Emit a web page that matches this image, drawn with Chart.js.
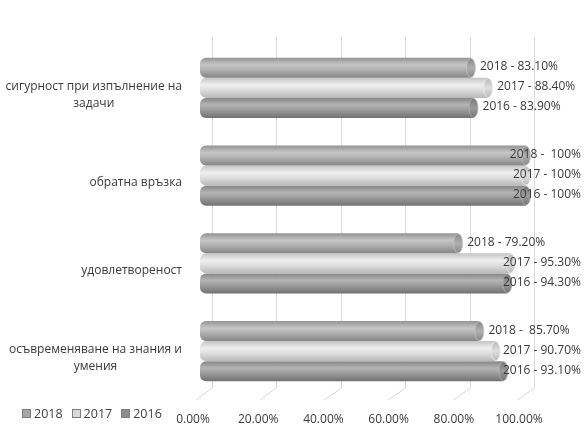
<!DOCTYPE html>
<html>
<head>
<meta charset="utf-8">
<script src="https://cdn.jsdelivr.net/npm/chart.js@4"></script>
<style>
  html, body { margin: 0; padding: 0; background: #fff; }
  #wrap { position: relative; width: 585px; height: 428px; }
  #legend { position: absolute; left: 22px; top: 405px; font: 12.5px "Open Sans", sans-serif; color: #404040; }
  #legend span.item { margin-right: 9px; }
  #legend span.box { display: inline-block; width: 7px; height: 7px; margin-right: 3px; border: 1px solid #7f7f7f; vertical-align: 0px; }
</style>
</head>
<body>
<div id="wrap">
  <canvas id="myChart" width="585" height="428"></canvas>
  <div id="legend"></div>
</div>
<script>
// Категории (отгоре надолу)
var categorias = [
  ['сигурност при изпълнение на', 'задачи'],
  ['обратна връзка'],
  ['удовлетвореност'],
  ['осъвременяване на знания и', 'умения']
];
var anios = ['2018', '2017', '2016'];
var valores2018 = [83.1, 100, 79.2, 85.7];
var valores2017 = [88.4, 100, 95.3, 90.7];
var valores2016 = [83.9, 100, 94.3, 93.1];
var etiquetas2018 = ['2018 - 83.10%', '2018 -  100%', '2018 - 79.20%', '2018 -  85.70%'];
var etiquetas2017 = ['2017 - 88.40%', '2017 - 100%', '2017 - 95.30%', '2017 - 90.70%'];
var etiquetas2016 = ['2016 - 83.90%', '2016 - 100%', '2016 - 94.30%', '2016 - 93.10%'];
var ticksX = [0, 20, 40, 60, 80, 100];

var fuente = '"Open Sans", sans-serif';
var colorTexto = '#3a3a3a';

// colores de cilindro: arriba, brillo, medio, abajo
var tonos = [
  ['#949494', '#c6c6c6', '#b0b0b0', '#858585'],
  ['#c4c4c4', '#efefef', '#dedede', '#b8b8b8'],
  ['#858585', '#b4b4b4', '#9c9c9c', '#727272']
];
var tonosLeyenda = ['#a6a6a6', '#d9d9d9', '#8c8c8c'];

function degradado(ctx, k) {
  var el = ctx.element;
  var t = tonos[k];
  if (!el || el.y === undefined || isNaN(el.y)) return t[2];
  var h = el.height;
  var g = ctx.chart.ctx.createLinearGradient(0, el.y - h / 2, 0, el.y + h / 2);
  g.addColorStop(0, t[0]);
  g.addColorStop(0.35, t[1]);
  g.addColorStop(0.6, t[2]);
  g.addColorStop(1, t[3]);
  return g;
}

// Líneas de la cuadrícula con el "piso" en 3D
var rejilla = {
  id: 'rejilla',
  beforeDatasetsDraw: function(chart) {
    var c = chart.ctx, x = chart.scales.x;
    c.save();
    c.strokeStyle = '#d9d9d9';
    c.lineWidth = 1;
    for (var i = 0; i < ticksX.length; i++) {
      var px = Math.round(x.left + (x.getPixelForValue(ticksX[i]) - x.left) * 0.988 + 12) + 0.5;
      c.beginPath();
      c.moveTo(px, 37);
      c.lineTo(px, 388);
      c.lineTo(px - 17, 400);
      c.stroke();
    }
    c.restore();
  }
};

// Tapa del cilindro, etiquetas de datos y etiquetas de categoría
var extras = {
  id: 'extras',
  afterDatasetsDraw: function(chart) {
    var c = chart.ctx;
    var etiquetas = [etiquetas2018, etiquetas2017, etiquetas2016];
    c.save();
    for (var k = 0; k < chart.data.datasets.length; k++) {
      var meta = chart.getDatasetMeta(k);
      meta.data.forEach(function(el, i) {
        var h = el.height;
        var g = c.createLinearGradient(0, el.y - h / 2, 0, el.y + h / 2);
        g.addColorStop(0, tonos[k][3]);
        g.addColorStop(0.5, tonos[k][2]);
        g.addColorStop(1, tonos[k][3]);
        c.beginPath();
        c.ellipse(el.x, el.y, 4.5, h / 2 - 0.5, 0, 0, Math.PI * 2);
        c.fillStyle = g;
        c.fill();
        c.strokeStyle = tonos[k][1];
        c.lineWidth = 0.7;
        c.stroke();
      });
    }
    c.font = '12px ' + fuente;
    c.fillStyle = colorTexto;
    c.textBaseline = 'middle';
    for (var k = 0; k < chart.data.datasets.length; k++) {
      var meta = chart.getDatasetMeta(k);
      meta.data.forEach(function(el, i) {
        var txt = etiquetas[k][i];
        var w = c.measureText(txt).width;
        var lx = Math.min(el.x + 9, 581 - w);
        c.textAlign = 'left';
        c.fillText(txt, lx, el.y - 1);
      });
    }
    // categorías
    var y = chart.scales.y;
    categorias.forEach(function(lineas, i) {
      var cy = y.getPixelForValue(i);
      var ancho = 0;
      lineas.forEach(function(l) { ancho = Math.max(ancho, c.measureText(l).width); });
      var cx = 182 - ancho / 2;
      c.textAlign = 'center';
      var alto = 17;
      var y0 = cy - (lineas.length - 1) * alto / 2 + 7;
      lineas.forEach(function(l, j) { c.fillText(l, cx, y0 + j * alto); });
    });
    c.restore();
  }
};

var ctx = document.getElementById('myChart').getContext('2d');
var data = {
  labels: categorias.map(function(l) { return l.join(' '); }),
  datasets: [
    { label: anios[0], data: valores2018, backgroundColor: function(c) { return degradado(c, 0); } },
    { label: anios[1], data: valores2017, backgroundColor: function(c) { return degradado(c, 1); } },
    { label: anios[2], data: valores2016, backgroundColor: function(c) { return degradado(c, 2); } }
  ]
};

var options = {
  indexAxis: 'y',
  responsive: false,
  animation: false,
  layout: { padding: { left: 200, right: 59, top: 44, bottom: 0 } },
  datasets: {
    bar: {
      barPercentage: 1,
      categoryPercentage: 0.684,
      borderSkipped: false,
      borderWidth: 0,
      borderRadius: { topLeft: 6, bottomLeft: 6, topRight: 0, bottomRight: 0 }
    }
  },
  plugins: { legend: { display: false }, tooltip: { enabled: false } },
  scales: {
    y: { display: false },
    x: {
      min: 0,
      max: 100,
      afterBuildTicks: function(s) { s.ticks = ticksX.map(function(v) { return { value: v }; }); },
      afterFit: function(s) { s.height = 33; },
      grid: { display: false },
      border: { display: false },
      ticks: {
        padding: 9,
        labelOffset: -7,
        color: colorTexto,
        font: { family: fuente, size: 12 },
        maxRotation: 0,
        callback: function(v) { return v.toFixed(2) + '%'; }
      }
    }
  }
};

var myChart = new Chart(ctx, { type: 'bar', data: data, options: options, plugins: [rejilla, extras] });
myChart.update();

// Leyenda
var leyenda = document.getElementById('legend');
anios.forEach(function(a, i) {
  var s = document.createElement('span');
  s.className = 'item';
  s.innerHTML = '<span class="box" style="background:' + tonosLeyenda[i] + '"></span>' + a;
  leyenda.appendChild(s);
});
</script>
</body>
</html>
